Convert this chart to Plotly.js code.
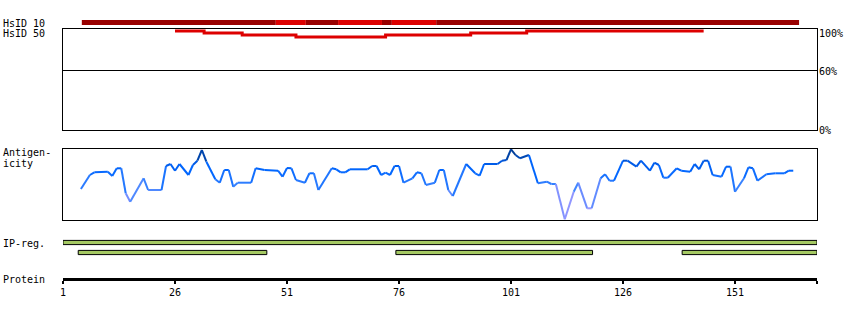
<!DOCTYPE html>
<html><head><meta charset="utf-8">
<script src="https://cdn.plot.ly/plotly-3.0.1.min.js"></script>
<style>html,body{margin:0;padding:0;background:#fff;overflow:hidden}#chart{width:850px;height:320px}</style>
</head><body><div id="chart"></div>
<script>
// ---------- data ----------
const proteinTicks = [1, 26, 51, 76, 101, 126, 151];
const proteinTickLabels = ['1', '26', '51', '76', '101', '126', '151'];
const proteinEnd = 169.3;

const hsid10Start = [5.2, 48.5, 55.2, 62.4, 72.2, 74.4, 84.3];
const hsid10End   = [48.5, 55.2, 62.4, 72.2, 74.4, 84.3, 165.3];
const hsid10Level = ['high', 'low', 'high', 'low', 'high', 'low', 'high'];

const hsid50Pos = [26, 32.5, 41, 53, 73, 92, 104.5, 144];
const hsid50Pct = [99, 97, 95, 93, 95, 97, 99, 99];

const antigenPos = [5,7,8,11,12,13,14,15,16,19,20,23,24,25,26,27,29,30,31,32,33,35,36,37,38,39,40,43,44,46,49,50,51,52,53,55,56,57,58,61,62,63,64,65,69,70,71,72,73,74,75,76,77,79,80,81,82,84,85,86,87,88,91,93,94,95,98,99,100,101,102,103,105,107,109,110,111,113,115,116,118,119,121,122,123,124,126,127,129,130,132,133,134,135,136,138,139,141,142,143,144,145,146,148,149,150,151,153,154,155,156,158,160,162,163,164];
const antigenVal = [31,45,47.7,48.3,44,51.7,51.7,26.7,18.3,41.7,30,30,54,56,49.3,56,45,55,59.3,70,58.3,40.7,37.3,50,50,33.3,37.3,37.3,51.7,50,49.3,43.3,52,51.7,40,37.3,46.7,46.7,30,51.7,50.7,47.7,47.7,50.7,50.7,54,54,45,47.3,45,54,54,37.3,41.7,47.7,46.7,35,37.3,50,50,30,24,56,46.7,44.3,56,56,59.3,60,70.7,65,61.7,65,36.7,38.3,36,36,0.7,28.3,37.3,11.7,11.7,41.7,45.7,39.3,39.3,59.3,59.3,53.3,59.3,49.3,57.3,55,42.3,42.3,51.7,49.3,48.3,56,50.7,59.3,59.3,45,43.3,53.3,53.3,28.3,41.7,52.7,51.7,39.3,45.7,46.7,46.7,49.3,49.3];

const ipStart = [1, 4.4, 75.3, 139.2];
const ipEnd   = [169.3, 46.5, 119.2, 169.3];
const ipRow   = [0, 1, 1, 1];

// ---------- helpers ----------
const H = 320, L = 63, R = 817;
const py = p => 1 - p / H;
const px = p => (p - L) / (R - L);
const FONT = {family: 'DejaVu Sans Mono, monospace', size: 10, color: '#000'};

const stops = [
  [0, [176,168,255]], [12, [153,153,255]], [24, [110,140,255]], [32, [68,136,255]],
  [40, [34,119,255]], [50, [0,102,255]], [58, [0,88,225]], [64, [0,70,175]], [72, [0,52,125]]
];
function colorFor(v) {
  for (let i = 0; i < stops.length - 1; i++) {
    const [a, ca] = stops[i], [b, cb] = stops[i + 1];
    if (v <= b) {
      const t = Math.max(0, (v - a) / (b - a));
      const c = ca.map((x, k) => Math.round(x + (cb[k] - x) * t));
      return 'rgb(' + c.join(',') + ')';
    }
  }
  return 'rgb(' + stops[stops.length - 1][1].join(',') + ')';
}

const traces = [];

// Protein axis carrier (invisible, keeps the xy subplot alive)
traces.push({
  type: 'scatter', mode: 'markers', xaxis: 'x', yaxis: 'y',
  x: [1, proteinEnd], y: [0.5, 0.5], marker: {opacity: 0, size: 1},
  hoverinfo: 'skip', showlegend: false
});

// HsID 10 bar
traces.push({
  type: 'bar', orientation: 'h', xaxis: 'x', yaxis: 'y5',
  y: hsid10Start.map(() => 0), base: hsid10Start,
  x: hsid10End.map((e, i) => e - hsid10Start[i]),
  width: 1,
  marker: {color: hsid10Level.map(l => l === 'high' ? '#990000' : '#dd0000'), line: {width: 0}},
  hoverinfo: 'skip', showlegend: false
});

// HsID 50 line
traces.push({
  type: 'scatter', mode: 'lines', xaxis: 'x3', yaxis: 'y4',
  x: hsid50Pos, y: hsid50Pct,
  line: {color: '#dd0000', width: 3, shape: 'hv'},
  hoverinfo: 'skip', showlegend: false
});

// Antigenicity segments
for (let i = 0; i < antigenPos.length - 1; i++) {
  traces.push({
    type: 'scatter', mode: 'lines', xaxis: 'x2', yaxis: 'y3',
    x: [antigenPos[i], antigenPos[i + 1]], y: [antigenVal[i], antigenVal[i + 1]],
    line: {color: colorFor((antigenVal[i] + antigenVal[i + 1]) / 2), width: 2},
    hoverinfo: 'skip', showlegend: false
  });
}

// IP-reg bars
traces.push({
  type: 'bar', orientation: 'h', xaxis: 'x', yaxis: 'y2',
  y: ipRow, base: ipStart, x: ipEnd.map((e, i) => e - ipStart[i]),
  width: 0.42,
  marker: {color: '#a5c963', line: {width: 1, color: '#000'}},
  hoverinfo: 'skip', showlegend: false
});

const plainX = a => Object.assign({
  range: [1, proteinEnd], showgrid: false, zeroline: false, fixedrange: true,
  showline: true, mirror: true, linecolor: '#000', linewidth: 1,
  ticks: '', showticklabels: false
}, a);

const layout = {
  width: 850, height: 320,
  margin: {l: L, r: 850 - R, t: 0, b: 0, pad: 0},
  paper_bgcolor: '#fff', plot_bgcolor: 'rgba(0,0,0,0)',
  barmode: 'overlay', showlegend: false,
  xaxis: {
    anchor: 'y', range: [1, proteinEnd], showgrid: false, zeroline: false,
    showline: true, linecolor: '#000', linewidth: 3,
    ticks: 'outside', ticklen: 3, tickwidth: 2, tickcolor: '#000',
    tickvals: proteinTicks.concat([proteinEnd]), ticktext: proteinTickLabels.concat(['']),
    tickfont: FONT, fixedrange: true, automargin: false
  },
  yaxis:  {anchor: 'x', domain: [py(278), py(270)], range: [0, 1], visible: false, fixedrange: true},
  yaxis2: {anchor: 'x', domain: [py(257), py(238)], range: [1.45, -0.45], visible: false, fixedrange: true},
  xaxis2: plainX({anchor: 'y3'}),
  yaxis3: {anchor: 'x2', domain: [py(220), py(149)], range: [0, 71], showgrid: false, zeroline: false,
           showline: true, mirror: true, linecolor: '#000', linewidth: 1, ticks: '', showticklabels: false, fixedrange: true},
  xaxis3: plainX({anchor: 'y4'}),
  yaxis4: {anchor: 'x3', domain: [py(130), py(29)], range: [0, 101], zeroline: false,
           showline: true, mirror: true, linecolor: '#000', linewidth: 1, ticks: '', showticklabels: false,
           tickvals: [60], showgrid: true, gridcolor: '#000', gridwidth: 1, fixedrange: true},
  yaxis5: {anchor: 'x', domain: [py(25), py(20)], range: [-0.5, 0.5], visible: false, fixedrange: true},
  annotations: [
    ['HsID 10', 1, 23, 'left'], ['HsID 50', 1, 33, 'left'],
    ['Antigen-', 1, 152.5, 'left'], ['icity', 1, 163, 'left'],
    ['IP-reg.', 1, 243, 'left'], ['Protein', 1, 279.5, 'left'],
    ['100%', 817, 33, 'left'], ['60%', 817, 71, 'left'], ['0%', 817, 130, 'left']
  ].map(([t, x, y, a]) => ({
    text: t, xref: 'paper', yref: 'paper', x: px(x), y: py(y),
    xanchor: a, yanchor: 'middle', showarrow: false, font: FONT
  }))
};

Plotly.newPlot('chart', traces, layout, {staticPlot: true, displayModeBar: false});
</script>
</body></html>
